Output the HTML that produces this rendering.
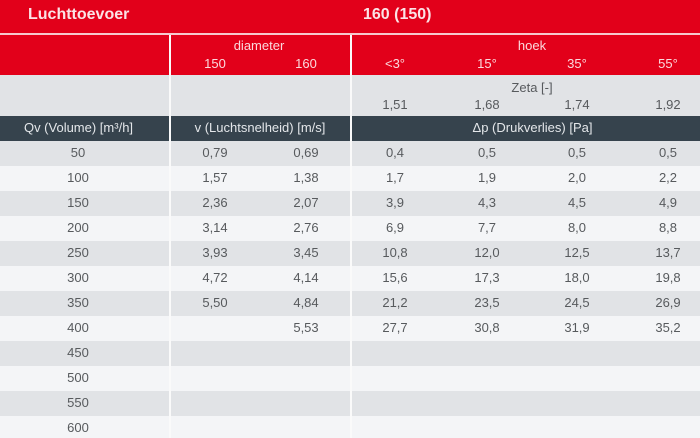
<!DOCTYPE html>
<html><head><meta charset="utf-8"><style>
*{margin:0;padding:0;box-sizing:border-box}
body{width:700px;height:438px;overflow:hidden;background:#f4f5f7;font-family:"Liberation Sans",sans-serif;position:relative}
.a{position:absolute}
.t{position:absolute;text-align:center;white-space:nowrap;font-size:13px;color:#575a5d}
.hd{color:#fbd9dd}
.dk{color:#e4e7ea}
</style></head><body>
<div class="a" style="left:0;top:0;width:700px;height:33px;background:#e2001a"></div>
<div class="a" style="left:0;top:33px;width:700px;height:2px;background:#f6c8cd"></div>
<div class="a" style="left:0;top:35px;width:700px;height:40px;background:#e2001a"></div>
<div class="a" style="left:0;top:75px;width:700px;height:41px;background:#e1e3e6"></div>
<div class="a" style="left:0;top:116px;width:700px;height:25px;background:#36434d"></div>
<div class="a" style="left:0;top:141px;width:700px;height:25px;background:#e1e3e6"></div>
<div class="a" style="left:0;top:191px;width:700px;height:25px;background:#e1e3e6"></div>
<div class="a" style="left:0;top:241px;width:700px;height:25px;background:#e1e3e6"></div>
<div class="a" style="left:0;top:291px;width:700px;height:25px;background:#e1e3e6"></div>
<div class="a" style="left:0;top:341px;width:700px;height:25px;background:#e1e3e6"></div>
<div class="a" style="left:0;top:391px;width:700px;height:25px;background:#e1e3e6"></div>
<div class="a" style="left:169px;top:35px;width:1.5px;height:403px;background:#fafafa"></div>
<div class="a" style="left:350px;top:35px;width:1.5px;height:403px;background:#fafafa"></div>

<div class="a" style="left:28px;top:5px;font-size:16px;font-weight:bold;color:#fbe3e6;line-height:20px">Luchttoevoer</div>
<div class="a" style="left:363px;top:5px;font-size:16px;font-weight:bold;color:#fbe3e6;line-height:20px">160 (150)</div>

<div class="t hd" style="left:209px;width:100px;top:38px;line-height:16px">diameter</div>
<div class="t hd" style="left:185px;width:60px;top:56px;line-height:16px">150</div>
<div class="t hd" style="left:276px;width:60px;top:56px;line-height:16px">160</div>
<div class="t hd" style="left:482px;width:100px;top:38px;line-height:16px">hoek</div>
<div class="t hd" style="left:365px;width:60px;top:56px;line-height:16px">&lt;3°</div>
<div class="t hd" style="left:457px;width:60px;top:56px;line-height:16px">15°</div>
<div class="t hd" style="left:547px;width:60px;top:56px;line-height:16px">35°</div>
<div class="t hd" style="left:638px;width:60px;top:56px;line-height:16px">55°</div>

<div class="t" style="left:482px;width:100px;top:80px;line-height:16px">Zeta [-]</div>
<div class="t" style="left:365px;width:60px;top:97px;line-height:16px">1,51</div>
<div class="t" style="left:457px;width:60px;top:97px;line-height:16px">1,68</div>
<div class="t" style="left:547px;width:60px;top:97px;line-height:16px">1,74</div>
<div class="t" style="left:638px;width:60px;top:97px;line-height:16px">1,92</div>

<div class="t dk" style="left:0;width:157px;top:120px;line-height:16px">Qv (Volume) [m³/h]</div>
<div class="t dk" style="left:170px;width:180px;top:120px;line-height:16px">v (Luchtsnelheid) [m/s]</div>
<div class="t dk" style="left:351px;width:363px;top:120px;line-height:16px">Δp (Drukverlies) [Pa]</div>

<!-- data rows -->
<div class="t" style="left:48px;width:60px;top:145px;line-height:16px">50</div>
<div class="t" style="left:185px;width:60px;top:145px;line-height:16px">0,79</div>
<div class="t" style="left:276px;width:60px;top:145px;line-height:16px">0,69</div>
<div class="t" style="left:365px;width:60px;top:145px;line-height:16px">0,4</div>
<div class="t" style="left:457px;width:60px;top:145px;line-height:16px">0,5</div>
<div class="t" style="left:547px;width:60px;top:145px;line-height:16px">0,5</div>
<div class="t" style="left:638px;width:60px;top:145px;line-height:16px">0,5</div>

<div class="t" style="left:48px;width:60px;top:170px;line-height:16px">100</div>
<div class="t" style="left:185px;width:60px;top:170px;line-height:16px">1,57</div>
<div class="t" style="left:276px;width:60px;top:170px;line-height:16px">1,38</div>
<div class="t" style="left:365px;width:60px;top:170px;line-height:16px">1,7</div>
<div class="t" style="left:457px;width:60px;top:170px;line-height:16px">1,9</div>
<div class="t" style="left:547px;width:60px;top:170px;line-height:16px">2,0</div>
<div class="t" style="left:638px;width:60px;top:170px;line-height:16px">2,2</div>

<div class="t" style="left:48px;width:60px;top:195px;line-height:16px">150</div>
<div class="t" style="left:185px;width:60px;top:195px;line-height:16px">2,36</div>
<div class="t" style="left:276px;width:60px;top:195px;line-height:16px">2,07</div>
<div class="t" style="left:365px;width:60px;top:195px;line-height:16px">3,9</div>
<div class="t" style="left:457px;width:60px;top:195px;line-height:16px">4,3</div>
<div class="t" style="left:547px;width:60px;top:195px;line-height:16px">4,5</div>
<div class="t" style="left:638px;width:60px;top:195px;line-height:16px">4,9</div>

<div class="t" style="left:48px;width:60px;top:220px;line-height:16px">200</div>
<div class="t" style="left:185px;width:60px;top:220px;line-height:16px">3,14</div>
<div class="t" style="left:276px;width:60px;top:220px;line-height:16px">2,76</div>
<div class="t" style="left:365px;width:60px;top:220px;line-height:16px">6,9</div>
<div class="t" style="left:457px;width:60px;top:220px;line-height:16px">7,7</div>
<div class="t" style="left:547px;width:60px;top:220px;line-height:16px">8,0</div>
<div class="t" style="left:638px;width:60px;top:220px;line-height:16px">8,8</div>

<div class="t" style="left:48px;width:60px;top:245px;line-height:16px">250</div>
<div class="t" style="left:185px;width:60px;top:245px;line-height:16px">3,93</div>
<div class="t" style="left:276px;width:60px;top:245px;line-height:16px">3,45</div>
<div class="t" style="left:365px;width:60px;top:245px;line-height:16px">10,8</div>
<div class="t" style="left:457px;width:60px;top:245px;line-height:16px">12,0</div>
<div class="t" style="left:547px;width:60px;top:245px;line-height:16px">12,5</div>
<div class="t" style="left:638px;width:60px;top:245px;line-height:16px">13,7</div>

<div class="t" style="left:48px;width:60px;top:270px;line-height:16px">300</div>
<div class="t" style="left:185px;width:60px;top:270px;line-height:16px">4,72</div>
<div class="t" style="left:276px;width:60px;top:270px;line-height:16px">4,14</div>
<div class="t" style="left:365px;width:60px;top:270px;line-height:16px">15,6</div>
<div class="t" style="left:457px;width:60px;top:270px;line-height:16px">17,3</div>
<div class="t" style="left:547px;width:60px;top:270px;line-height:16px">18,0</div>
<div class="t" style="left:638px;width:60px;top:270px;line-height:16px">19,8</div>

<div class="t" style="left:48px;width:60px;top:295px;line-height:16px">350</div>
<div class="t" style="left:185px;width:60px;top:295px;line-height:16px">5,50</div>
<div class="t" style="left:276px;width:60px;top:295px;line-height:16px">4,84</div>
<div class="t" style="left:365px;width:60px;top:295px;line-height:16px">21,2</div>
<div class="t" style="left:457px;width:60px;top:295px;line-height:16px">23,5</div>
<div class="t" style="left:547px;width:60px;top:295px;line-height:16px">24,5</div>
<div class="t" style="left:638px;width:60px;top:295px;line-height:16px">26,9</div>

<div class="t" style="left:48px;width:60px;top:320px;line-height:16px">400</div>
<div class="t" style="left:276px;width:60px;top:320px;line-height:16px">5,53</div>
<div class="t" style="left:365px;width:60px;top:320px;line-height:16px">27,7</div>
<div class="t" style="left:457px;width:60px;top:320px;line-height:16px">30,8</div>
<div class="t" style="left:547px;width:60px;top:320px;line-height:16px">31,9</div>
<div class="t" style="left:638px;width:60px;top:320px;line-height:16px">35,2</div>

<div class="t" style="left:48px;width:60px;top:345px;line-height:16px">450</div>
<div class="t" style="left:48px;width:60px;top:370px;line-height:16px">500</div>
<div class="t" style="left:48px;width:60px;top:395px;line-height:16px">550</div>
<div class="t" style="left:48px;width:60px;top:420px;line-height:16px">600</div>
</body></html>
